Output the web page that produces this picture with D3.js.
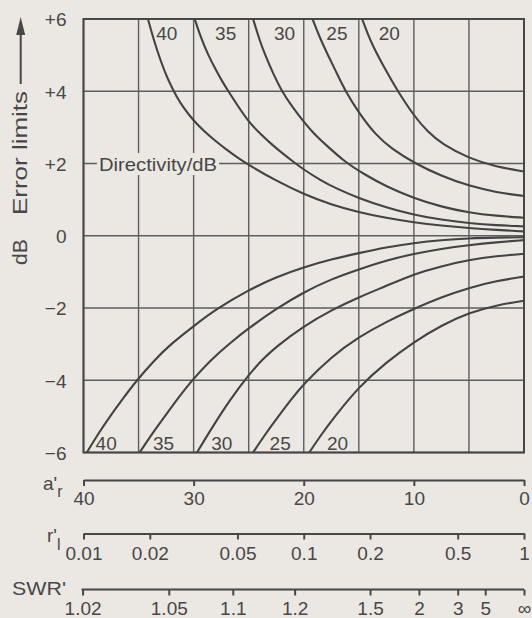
<!DOCTYPE html>
<html><head><meta charset="utf-8">
<script src="https://cdn.jsdelivr.net/npm/d3@7"></script>
<style>
html,body{margin:0;padding:0;background:#ebe7e2;}
svg{display:block;}
text{font-family:"Liberation Sans",Arial,Helvetica,sans-serif;fill:#474747;}
</style></head><body>
<svg id="chart" width="532" height="618"></svg>
<script>
// ---------- data ----------
const directivity = [40, 35, 30, 25, 20];
// [a'r (dB), error (dB)] – upper limits
const upper40 = [[34.15,6.0],[33.5,5.3],[33,4.85],[32.5,4.45],[32,4.12],[31.5,3.83],[31,3.58],[30,3.18],[29,2.88],[28,2.62],[27,2.38],[26,2.16],[25,1.96],[22.5,1.52],[20,1.15],[17.5,0.86],[15,0.65],[12.5,0.49],[10,0.37],[7.5,0.28],[5,0.21],[2.5,0.16],[0,0.12]];
const upper35 = [[29.9,6.0],[29.3,5.45],[28.7,5.02],[28,4.6],[27.4,4.27],[26.85,4.0],[26,3.6],[25,3.15],[24,2.84],[23,2.55],[22,2.3],[21,2.06],[20,1.83],[18.5,1.54],[17,1.3],[15,1.04],[12.5,0.78],[10,0.58],[7.5,0.44],[5,0.35],[2.5,0.29],[0,0.26]];
const upper30 = [[24.6,6.0],[24,5.4],[23.5,5.0],[22.8,4.5],[22,4.0],[21,3.55],[20,3.15],[19,2.8],[18,2.52],[16.3,2.05],[14.5,1.7],[12.5,1.36],[10,1.04],[7.5,0.8],[5,0.64],[2.5,0.55],[0,0.50]];
const upper25 = [[19.2,6.0],[18.5,5.45],[17.8,5.0],[17,4.5],[16.3,4.05],[15,3.4],[13.5,2.8],[12,2.4],[10,2.02],[7.5,1.65],[5,1.38],[2.5,1.2],[0,1.10]];
const upper20 = [[14.7,6.0],[14.2,5.6],[13.8,5.3],[12.6,4.6],[11.5,4.02],[10,3.32],[8.75,2.88],[7.5,2.55],[5,2.14],[2.5,1.91],[0,1.78]];
// lower limits
const lower40 = [[39.7,-6.0],[38.6,-5.45],[37.6,-5.0],[36.4,-4.5],[35.3,-4.05],[33.5,-3.42],[32,-2.98],[30,-2.5],[27.9,-2.02],[25,-1.5],[22.5,-1.14],[20,-0.87],[17.5,-0.65],[15,-0.48],[12.5,-0.32],[10,-0.2],[7.5,-0.12],[5,-0.07],[2.5,-0.05],[0,-0.04]];
const lower35 = [[34.9,-6.0],[33.7,-5.45],[32.5,-4.95],[31.3,-4.45],[30.2,-4.02],[28.5,-3.45],[26.7,-2.97],[25,-2.56],[22.5,-2.02],[20,-1.56],[17.5,-1.2],[15,-0.93],[12.5,-0.68],[10,-0.5],[7.5,-0.36],[5,-0.26],[2.5,-0.18],[0,-0.12]];
const lower30 = [[29.7,-6.0],[28.2,-5.25],[26.7,-4.54],[25,-3.85],[23.75,-3.42],[22.5,-3.07],[20,-2.5],[17.5,-2.06],[15,-1.7],[12.5,-1.39],[10,-1.06],[7.5,-0.84],[5,-0.67],[2.5,-0.56],[0,-0.50]];
const lower25 = [[24.6,-6.0],[23.4,-5.45],[22.3,-5.0],[21.2,-4.55],[20,-4.1],[17.5,-3.35],[15,-2.8],[12.5,-2.38],[10,-2.02],[7.5,-1.7],[5,-1.44],[2.5,-1.25],[0,-1.13]];
const lower20 = [[19.5,-6.0],[18.4,-5.5],[17.3,-5.05],[15,-4.18],[12.5,-3.5],[10,-2.94],[7.5,-2.48],[5,-2.13],[2.5,-1.92],[0,-1.80]];
const upperCurves = [upper40, upper35, upper30, upper25, upper20];
const lowerCurves = [lower40, lower35, lower30, lower25, lower20];
// label anchor positions (in a'r dB units)
const topLabelA = [33.4, 28.05, 22.7, 17.95, 13.2];
const bottomLabelA = [38.9, 33.7, 28.4, 23.1, 17.9];

const yTicks = [6, 4, 2, 0, -2, -4, -6];
const yTickLabels = ["+6", "+4", "+2", "0", "\u22122", "\u22124", "\u22126"];
const gridA = [40, 35, 30, 25, 20, 15, 10, 5, 0];
const arTicks = [40, 30, 20, 10, 0];
const rlTicks = [0.01, 0.02, 0.05, 0.1, 0.2, 0.5, 1];
const rlTickLabels = ["0.01", "0.02", "0.05", "0.1", "0.2", "0.5", "1"];
const swrTicks = [1.02, 1.05, 1.1, 1.2, 1.5, 2, 3, 5, Infinity];
const swrTickLabels = ["1.02", "1.05", "1.1", "1.2", "1.5", "2", "3", "5", "\u221e"];

// ---------- layout ----------
const L = 83.5, R = 524, T = 19, B = 452.5;
const ink = "#474747", gridInk = "#5e5e5e", bg = "#ebe7e2";
const FS = 19;

const svg = d3.select("#chart");
svg.append("rect").attr("width", 532).attr("height", 618).attr("fill", bg);

const x = d3.scaleLinear().domain([40, 0]).range([L, R]);
const y = d3.scaleLinear().domain([-6, 6]).range([B, T]);
const rScale = d3.scaleLog().domain([0.01, 1]).range([L, R]);

// grid
const grid = svg.append("g").attr("stroke", gridInk).attr("stroke-width", 1.4);
grid.selectAll("line.v").data(gridA).join("line").attr("class", "v")
  .attr("x1", d => x(d)).attr("x2", d => x(d)).attr("y1", T).attr("y2", B);
grid.selectAll("line.h").data(yTicks).join("line").attr("class", "h")
  .attr("x1", L).attr("x2", R).attr("y1", d => y(d)).attr("y2", d => y(d));
svg.append("rect").attr("x", L).attr("y", T).attr("width", R - L).attr("height", B - T)
  .attr("fill", "none").attr("stroke", ink).attr("stroke-width", 2);

// y axis labels
const yAxis = svg.append("g").attr("transform", `translate(${L},0)`)
  .call(d3.axisLeft(y).tickValues(yTicks).tickFormat((d, i) => yTickLabels[i]).tickSize(0).tickPadding(17));
yAxis.select(".domain").remove();
yAxis.selectAll("text").attr("font-size", FS).attr("font-family", "Liberation Sans, Arial, sans-serif").attr("fill", ink).attr("dy", "0.36em");

// curves
svg.append("clipPath").attr("id", "plotclip").append("rect")
  .attr("x", L).attr("y", T - 1).attr("width", R - L).attr("height", B - T + 2);
const line = d3.line().x(d => x(d[0])).y(d => y(d[1])).curve(d3.curveBasis);
const cg = svg.append("g").attr("clip-path", "url(#plotclip)")
  .attr("fill", "none").attr("stroke", "#434343").attr("stroke-width", 2.1);
cg.selectAll("path.up").data(upperCurves).join("path").attr("class", "up").attr("d", line);
cg.selectAll("path.lo").data(lowerCurves).join("path").attr("class", "lo").attr("d", line);

// curve labels
svg.append("g").selectAll("text").data(directivity).join("text")
  .attr("x", (d, i) => x(topLabelA[i])).attr("y", 40).attr("font-size", FS).text(d => d);
svg.append("g").selectAll("text").data(directivity).join("text")
  .attr("x", (d, i) => x(bottomLabelA[i])).attr("y", 450).attr("font-size", FS).text(d => d);

// Directivity/dB label
svg.append("rect").attr("x", 97).attr("y", 153).attr("width", 122).attr("height", 22).attr("fill", bg);
svg.append("text").attr("x", 99).attr("y", 171).attr("font-size", 18.5)
  .attr("textLength", 118).attr("lengthAdjust", "spacingAndGlyphs").text("Directivity/dB");

// y title with arrow
svg.append("line").attr("x1", 20.7).attr("x2", 20.7).attr("y1", 84).attr("y2", 30)
  .attr("stroke", ink).attr("stroke-width", 2);
svg.append("path").attr("d", "M16.2,35 L25.2,35 L20.7,17 Z").attr("fill", ink);
svg.append("text").attr("transform", "translate(27,215) rotate(-90)").attr("font-size", 21)
  .attr("textLength", 124).attr("lengthAdjust", "spacingAndGlyphs").text("Error limits");
svg.append("text").attr("transform", "translate(27,265) rotate(-90)").attr("font-size", 21).text("dB");

function styleAxis(g, labelY) {
  g.select(".domain").attr("stroke", ink).attr("stroke-width", 2);
  g.selectAll(".tick line").attr("stroke", ink).attr("stroke-width", 2);
  g.selectAll(".tick text").attr("font-size", FS).attr("font-family", "Liberation Sans, Arial, sans-serif")
    .attr("fill", ink).attr("y", labelY).attr("dy", null);
}

// a'r axis
const arAxis = svg.append("g").attr("transform", "translate(0,480)")
  .call(d3.axisBottom(x).tickValues(arTicks).tickFormat(d3.format("d")).tickSize(6).tickSizeOuter(0));
styleAxis(arAxis, 25);
// r'l axis
const rlAxis = svg.append("g").attr("transform", "translate(0,533.5)")
  .call(d3.axisBottom(rScale).tickValues(rlTicks).tickFormat((d, i) => rlTickLabels[i]).tickSize(6).tickSizeOuter(0));
styleAxis(rlAxis, 26.5);
// SWR' axis (positions via reflection factor r = (s-1)/(s+1))
const swrR = swrTicks.map(s => s === Infinity ? 1 : (s - 1) / (s + 1));
const swrAxis = svg.append("g").attr("transform", "translate(0,589.5)")
  .call(d3.axisBottom(rScale).tickValues(swrR).tickFormat((d, i) => swrTickLabels[i]).tickSize(6).tickSizeOuter(0));
styleAxis(swrAxis, 25.5);
swrAxis.select(".domain").attr("d", `M${rScale(swrR[0]) - 1},0H${R}`);

// axis names
const an = svg.append("text").attr("x", 43).attr("y", 490).attr("font-size", FS);
an.append("tspan").text("a'");
an.append("tspan").attr("dy", 7).attr("font-size", 16).text("r");
const rn = svg.append("text").attr("x", 47).attr("y", 542).attr("font-size", FS);
rn.append("tspan").text("r'");
rn.append("tspan").attr("dy", 8).attr("font-size", 16).text("l");
svg.append("text").attr("x", 12).attr("y", 595).attr("font-size", FS)
  .attr("textLength", 54).attr("lengthAdjust", "spacingAndGlyphs").text("SWR'");
</script>
</body></html>
